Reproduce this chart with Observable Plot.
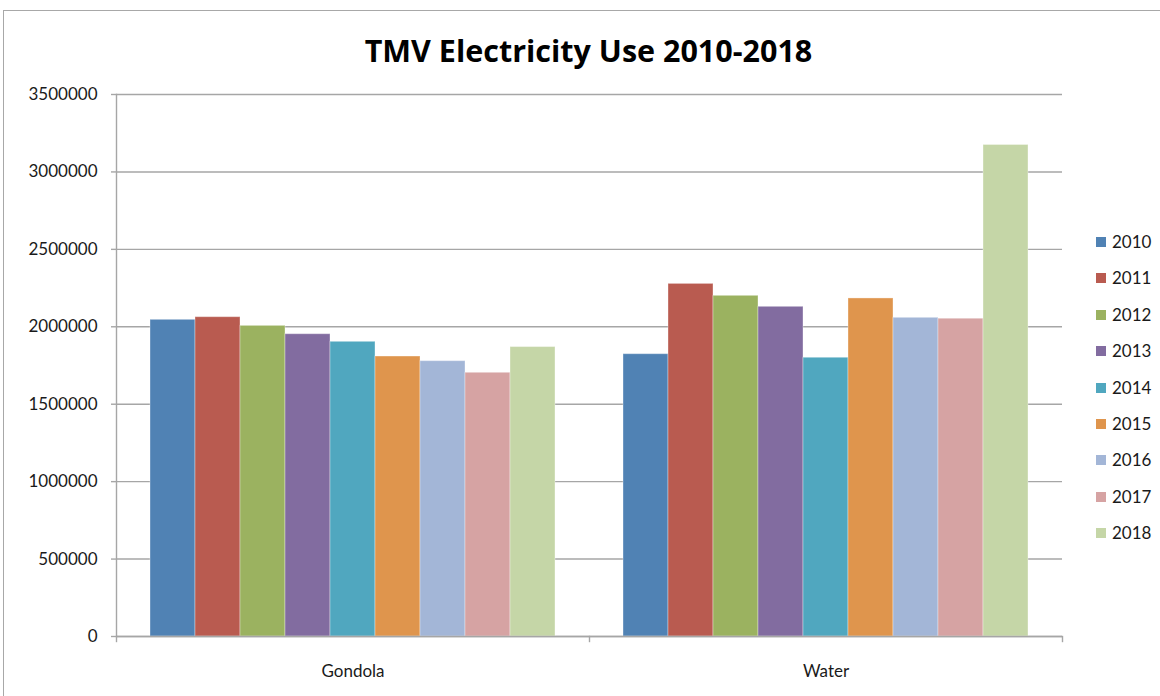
<!DOCTYPE html>
<html>
<head>
<meta charset="utf-8">
<script src="https://cdn.jsdelivr.net/npm/d3@7"></script>
<script src="https://cdn.jsdelivr.net/npm/@observablehq/plot@0.6"></script>
<style>
  html, body { margin: 0; padding: 0; background: #fff; }
  #chart { position: relative; width: 1160px; height: 696px; overflow: hidden; font-family: Lato, "Open Sans", sans-serif; color: #1a1a1a; }
  #border { position: absolute; left: 3px; top: 10px; width: 1200px; height: 800px; border-left: 1.5px solid #a8a8a8; border-top: 1.5px solid #a8a8a8; }
  #title { position: absolute; left: 115px; width: 947px; top: 29px; text-align: center; font-family: "Open Sans", sans-serif; font-weight: 700; font-size: 30.5px; line-height: 42px; color: #000; }
  #plot { position: absolute; left: 0; top: 80px; }
  #legend { position: absolute; left: 1096px; top: 0; }
  .item { position: absolute; left: 0; white-space: nowrap; font-size: 17px; line-height: 20px; }
  .sw { position: absolute; left: 0; top: 5px; width: 10px; height: 10px; }
  .lab { position: absolute; left: 16px; top: 0; }
</style>
</head>
<body>
<div id="chart">
  <div id="border"></div>
  <div id="title"></div>
  <div id="plot"></div>
  <div id="legend"></div>
</div>
<script>
// Electricity use (kWh) per facility and year
const title = "TMV Electricity Use 2010-2018";
const categories = ["Gondola", "Water"];
const years = ["2010", "2011", "2012", "2013", "2014", "2015", "2016", "2017", "2018"];
const gondola = [2045000, 2062000, 2006000, 1952000, 1903000, 1808000, 1778000, 1703000, 1869000];
const water = [1823000, 2277000, 2200000, 2129000, 1800000, 2183000, 2058000, 2052000, 3174000];
const yTicks = [0, 500000, 1000000, 1500000, 2000000, 2500000, 3000000, 3500000];
const colors = ["#5082b4", "#b95b50", "#9bb260", "#826ca0", "#50a7bf", "#df954d", "#a3b6d7", "#d6a3a3", "#c5d6a7"];

const series = {Gondola: gondola, Water: water};
const rows = categories.flatMap(cat => years.map((year, i) => ({cat, year, value: series[cat][i]})));

const W = 1160, H = 616, MT = 14, MB = 60, ML = 115, MR = 98;
const tickLen = 5;
const gridColor = "#a6a6a6";
const fontFamily = "Lato, 'Open Sans', sans-serif";

document.getElementById("title").textContent = title;

const chart = Plot.plot({
  width: W,
  height: H,
  marginTop: MT,
  marginBottom: MB,
  marginLeft: ML,
  marginRight: MR,
  style: {fontFamily, fontSize: "17px", color: "#1a1a1a", background: "transparent", overflow: "visible"},
  fx: {domain: categories, padding: 0, axis: null},
  x: {domain: years, paddingInner: 0, paddingOuter: 0.75, axis: null},
  y: {domain: [0, 3500000], axis: null},
  color: {type: "ordinal", domain: years, range: colors},
  marks: [
    Plot.gridY(yTicks, {stroke: gridColor, strokeOpacity: 1, strokeWidth: 1.4}),
    Plot.barY(rows, {fx: "cat", x: "year", y: "value", fill: "year", stroke: "#ffffff", strokeOpacity: 0.35, strokeWidth: 1}),
    Plot.ruleY([0], {stroke: gridColor, strokeWidth: 1.4}),
    // value axis line on the left edge
    Plot.frame({anchor: "left", facetAnchor: "left", stroke: gridColor, strokeWidth: 1.4}),
    // category boundary ticks below the baseline
    Plot.frame({anchor: "left", insetTop: H - MT - MB, insetBottom: -tickLen, stroke: gridColor, strokeWidth: 1.4}),
    Plot.frame({anchor: "right", facetAnchor: "right", insetTop: H - MT - MB, insetBottom: -tickLen, stroke: gridColor, strokeWidth: 1.4}),
    Plot.axisY(yTicks, {anchor: "left", label: null, tickSize: tickLen, tickPadding: 14, tickFormat: d => String(d), stroke: gridColor, strokeWidth: 1.4, fill: "#1a1a1a", fontSize: 17}),
    Plot.axisFx({anchor: "bottom", tickSize: 0, tickPadding: 28, fill: "#1a1a1a", fontSize: 17, label: null})
  ]
});
document.getElementById("plot").appendChild(chart);

// Year legend on the right
const legend = document.getElementById("legend");
years.forEach((y, i) => {
  const item = document.createElement("div");
  item.className = "item";
  item.style.top = (232 + i * 36.4) + "px";
  const sw = document.createElement("span");
  sw.className = "sw";
  sw.style.background = colors[i];
  const lab = document.createElement("span");
  lab.className = "lab";
  lab.textContent = y;
  item.appendChild(sw);
  item.appendChild(lab);
  legend.appendChild(item);
});
</script>
</body>
</html>
